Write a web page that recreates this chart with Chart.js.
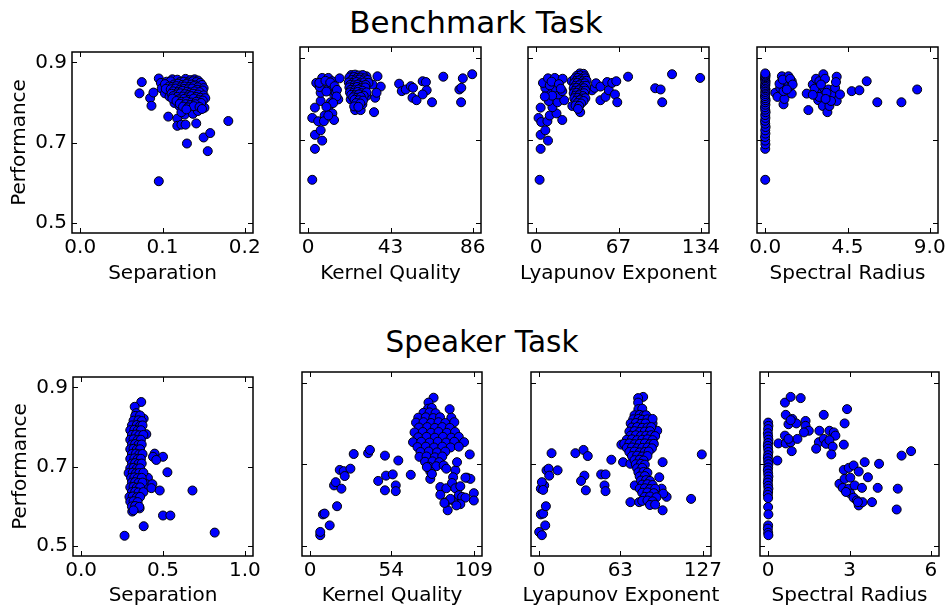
<!DOCTYPE html>
<html>
<head>
<meta charset="utf-8">
<script src="https://cdn.jsdelivr.net/npm/chart.js@4.4.0/dist/chart.umd.min.js"></script>
<style>
  body { margin: 0; background: #fff; width: 949px; height: 609px; position: relative; overflow: hidden; }
  canvas { position: absolute; }
  .titulo { position: absolute; transform: translateX(-50%); white-space: nowrap;
            font-family: 'DejaVu Sans', sans-serif; line-height: 1; color: #000; }
</style>
</head>
<body>
<div class="titulo" style="left:476px; top:7px; font-size:31px;">Benchmark Task</div>
<div class="titulo" style="left:482px; top:328px; font-size:29.5px;">Speaker Task</div>
<canvas id="t1"></canvas><canvas id="t2"></canvas><canvas id="t3"></canvas><canvas id="t4"></canvas>
<canvas id="b1"></canvas><canvas id="b2"></canvas><canvas id="b3"></canvas><canvas id="b4"></canvas>
<script>
// eixo y compartilhado (Performance)
const perfTicks = [0.5, 0.7, 0.9];
const perfLabels = ['0.5', '0.7', '0.9'];

// Benchmark Task
const benchSep = [
  [0.0748,0.851],[0.072,0.823],[0.085,0.811],[0.0866,0.792],[0.089,0.825],[0.0955,0.860],[0.098,0.849],[0.099,0.835],
  [0.0955,0.604],[0.107,0.765],[0.118,0.760],[0.118,0.742],[0.123,0.745],[0.128,0.745],[0.1297,0.698],[0.141,0.748],
  [0.127,0.770],[0.137,0.772],[0.143,0.779],[0.151,0.787],[0.150,0.713],[0.158,0.724],[0.155,0.679],[0.180,0.754],
  [0.103,0.823],[0.1065,0.838],[0.1085,0.815],[0.1146,0.799],[0.1207,0.791],[0.123,0.776],
  [0.112,0.858],[0.118,0.857],[0.128,0.859],[0.134,0.856],[0.139,0.858],[0.143,0.855],
  [0.105,0.852],[0.110,0.853],[0.121,0.851],[0.126,0.852],[0.131,0.850],[0.137,0.853],[0.141,0.851],[0.146,0.849],
  [0.103,0.846],[0.114,0.845],[0.119,0.847],[0.124,0.844],[0.129,0.846],[0.135,0.845],[0.140,0.843],[0.148,0.844],
  [0.108,0.840],[0.112,0.839],[0.117,0.841],[0.122,0.838],[0.127,0.840],[0.133,0.839],[0.138,0.841],[0.143,0.838],[0.150,0.836],
  [0.104,0.834],[0.110,0.833],[0.116,0.835],[0.121,0.832],[0.126,0.834],[0.131,0.833],[0.136,0.835],[0.142,0.832],[0.149,0.830],
  [0.113,0.828],[0.119,0.826],[0.124,0.829],[0.130,0.827],[0.134,0.825],[0.139,0.828],[0.145,0.826],
  [0.111,0.822],[0.117,0.820],[0.122,0.823],[0.127,0.821],[0.132,0.819],[0.137,0.822],[0.143,0.820],[0.150,0.818],
  [0.113,0.816],[0.118,0.814],[0.125,0.815],[0.130,0.813],[0.135,0.816],[0.141,0.814],[0.146,0.812],[0.152,0.811],
  [0.112,0.810],[0.120,0.808],[0.126,0.809],[0.133,0.807],[0.138,0.810],[0.144,0.806],[0.149,0.805],
  [0.117,0.804],[0.123,0.802],[0.129,0.803],[0.135,0.800],[0.141,0.802],[0.147,0.799],
  [0.121,0.797],[0.128,0.796],[0.134,0.794],[0.140,0.796],
  [0.125,0.790],[0.131,0.788],[0.138,0.791],[0.145,0.789],[0.129,0.783],[0.148,0.784]
];
const benchKern = [
  [2.1,0.604],[3.5,0.679],[3.5,0.713],[3.5,0.779],[2.1,0.754],[5.2,0.746],[6.5,0.724],[7.3,0.699],[6.5,0.795],
  [8.6,0.760],[8.2,0.746],[10.5,0.779],[12.6,0.765],[13.5,0.749],[11.7,0.792],[15.7,0.799],[13.5,0.811],[10.8,0.827],
  [6.5,0.815],[5.2,0.835],[4.2,0.839],[7.3,0.851],[10.5,0.851],[12.6,0.843],[16.4,0.850],[12.2,0.823],[14.3,0.817],
  [6,0.829],[5.8,0.839],[9,0.844],[11.5,0.840],[13.8,0.831],[15,0.822],[9.5,0.818],[14.8,0.806],[13,0.790],[9.5,0.781],[10.5,0.760],
  [22.2,0.799],[24.5,0.773],[27.4,0.773],[28.3,0.787],[30.4,0.807],[34.4,0.768],[35,0.803],[36.2,0.855],[37.9,0.830],
  [33.6,0.835],[35.7,0.815],[30.4,0.855],
  [47.5,0.837],[48.9,0.819],[51,0.823],[53.6,0.831],[54.8,0.827],[54.5,0.803],[56.6,0.797],[59.8,0.843],[61.5,0.841],
  [61.9,0.821],[59.8,0.811],[64.7,0.792],[70.6,0.854],[79,0.823],[80,0.827],[79.9,0.792],[80.8,0.850],[85.7,0.860],
  [22.5,0.858],[24.5,0.859],[26.5,0.857],[28.5,0.858],
  [21.5,0.852],[23.8,0.853],[25.6,0.851],[27.5,0.852],[29.5,0.850],
  [22.8,0.846],[24.6,0.845],[26.8,0.847],[28.8,0.845],[31,0.846],
  [21.2,0.840],[23.4,0.839],[25.2,0.841],[27,0.838],[29.2,0.840],[31.5,0.839],
  [22,0.834],[24,0.833],[26,0.835],[28,0.832],[30,0.834],
  [21.5,0.828],[23.5,0.827],[25.5,0.829],[27.5,0.826],[29.8,0.828],
  [22.2,0.822],[24.2,0.821],[26.3,0.823],[28.3,0.820],
  [21.8,0.816],[23.6,0.815],[25.8,0.817],[27.8,0.814],[30.5,0.816],
  [22.5,0.810],[24.5,0.809],[26.5,0.811],[29,0.808],
  [23.5,0.804],[25.5,0.803],[27.5,0.805],[24.2,0.798],[26.5,0.797],[28.6,0.796],
  [25,0.790],[27.2,0.789],[24,0.782],[26.2,0.781]
];
const benchLyap = [
  [2.75,0.604],[3.6,0.679],[3.6,0.713],[9.6,0.699],[7.4,0.724],[1.9,0.754],[4.1,0.744],[9.1,0.746],[3.6,0.779],
  [11,0.760],[16.5,0.765],[21.2,0.749],[13.2,0.780],[10.2,0.795],[17.3,0.792],[22.8,0.797],[17.9,0.811],[21.2,0.819],
  [14.6,0.827],[9.1,0.817],[7.4,0.827],[5.5,0.839],[9.6,0.850],[15.1,0.851],[21.5,0.849],[11,0.833],[28.9,0.843],
  [29.4,0.783],[35.8,0.768],[34.9,0.787],[12.5,0.842],[18.5,0.836],[20,0.825],[13,0.808],[7,0.806],
  [45.4,0.821],[47.6,0.827],[48.7,0.838],[52.3,0.797],[52.3,0.830],[56.4,0.805],[57.8,0.841],[59.1,0.821],[61.9,0.839],
  [65.2,0.843],[64.1,0.811],[66,0.792],[74.8,0.854],[96.9,0.826],[101.3,0.823],[102.6,0.792],[110.6,0.860],[133.5,0.851],
  [35.5,0.862],[38.5,0.861],[33,0.856],[36,0.857],[39.5,0.855],
  [31.5,0.850],[34,0.851],[37,0.849],[40,0.850],[32.5,0.844],[35,0.845],[38,0.843],[41,0.844],
  [31,0.838],[33.5,0.839],[36.5,0.837],[39.5,0.838],[32,0.832],[35,0.833],[38,0.831],[40.5,0.832],
  [30.5,0.826],[33,0.827],[36,0.825],[39,0.826],[31.5,0.820],[34.5,0.821],[37.5,0.819],[40,0.820],
  [30.5,0.814],[33,0.815],[36,0.813],[39,0.814],[32,0.808],[35,0.809],[38,0.807],
  [31,0.802],[34,0.803],[37,0.801],[40,0.802],[32.5,0.796],[35.5,0.797],[38.5,0.795],
  [33.5,0.790],[36.5,0.789],[32,0.784],[35,0.783],[34,0.776]
];
const benchSpec = [
  [0,0.604],[0,0.679],[0.01,0.690],[0,0.699],[-0.01,0.708],[0.01,0.716],[0,0.724],[0.02,0.732],[0,0.740],
  [-0.01,0.747],[0.01,0.754],[0,0.761],[0.02,0.768],[0,0.774],[-0.01,0.780],[0.01,0.786],[0,0.792],[0.02,0.797],
  [0,0.802],[-0.01,0.807],[0.01,0.812],[0,0.817],[0.02,0.822],[0,0.826],[-0.01,0.830],[0.01,0.834],[0,0.838],
  [0.02,0.842],[0,0.846],[-0.01,0.850],[0.01,0.853],[0,0.856],[0.02,0.859],[0,0.862],
  [0.55,0.815],[0.67,0.805],[0.91,0.855],[1.27,0.855],[1.0,0.787],[1.05,0.800],[1.45,0.813],[1.36,0.831],[0.82,0.827],
  [1.18,0.843],[1.45,0.843],[1.0,0.819],[0.78,0.837],[0.96,0.847],[1.36,0.849],[1.5,0.835],[1.18,0.823],
  [2.27,0.813],[2.36,0.773],[2.6,0.835],[2.78,0.849],[2.96,0.843],[3.18,0.860],[3.27,0.849],[3.0,0.827],[2.9,0.797],
  [2.82,0.815],[3.18,0.807],[3.15,0.783],[3.4,0.768],[3.51,0.783],[3.45,0.823],[3.64,0.811],[3.82,0.827],[3.91,0.854],
  [3.87,0.841],[3.91,0.795],[4.09,0.811],[2.7,0.825],[3.05,0.835],[3.35,0.815],[2.95,0.805],[3.6,0.795],[3.3,0.800],[2.6,0.810],
  [4.73,0.819],[5.15,0.821],[5.55,0.843],[6.13,0.792],[7.45,0.792],[8.31,0.823]
];

// Speaker Task
const speakSep = [
  [0.265,0.526],[0.382,0.550],[0.367,0.863],[0.327,0.851],[0.337,0.835],[0.382,0.821],[0.398,0.782],[0.449,0.733],
  [0.439,0.725],[0.5,0.725],[0.459,0.717],[0.527,0.686],[0.408,0.672],[0.398,0.656],[0.435,0.656],[0.429,0.646],
  [0.48,0.640],[0.68,0.640],[0.5,0.577],[0.545,0.577],[0.816,0.534],[0.357,0.595],[0.312,0.587],
  [0.33,0.828],[0.36,0.829],[0.32,0.816],[0.35,0.817],[0.37,0.815],
  [0.31,0.804],[0.34,0.805],[0.36,0.803],[0.375,0.804],[0.30,0.792],[0.325,0.793],[0.345,0.791],[0.365,0.792],
  [0.31,0.780],[0.335,0.781],[0.355,0.779],[0.38,0.780],[0.30,0.768],[0.32,0.769],[0.345,0.767],[0.365,0.768],
  [0.31,0.756],[0.33,0.757],[0.35,0.755],[0.37,0.756],[0.30,0.744],[0.32,0.745],[0.34,0.743],[0.36,0.744],
  [0.31,0.732],[0.335,0.733],[0.355,0.731],[0.375,0.732],[0.30,0.720],[0.325,0.721],[0.345,0.719],[0.365,0.720],
  [0.31,0.708],[0.33,0.709],[0.35,0.707],[0.37,0.708],[0.30,0.696],[0.32,0.697],[0.34,0.695],[0.36,0.696],
  [0.29,0.684],[0.315,0.685],[0.335,0.683],[0.355,0.684],[0.38,0.685],
  [0.305,0.672],[0.325,0.673],[0.345,0.671],[0.37,0.672],[0.31,0.660],[0.33,0.661],[0.35,0.659],[0.375,0.660],
  [0.30,0.648],[0.32,0.649],[0.34,0.647],[0.36,0.648],[0.31,0.636],[0.33,0.637],[0.35,0.635],[0.38,0.636],
  [0.295,0.624],[0.315,0.625],[0.34,0.623],[0.36,0.624],[0.30,0.612],[0.32,0.613],[0.345,0.611],
  [0.31,0.600],[0.33,0.601],[0.355,0.599],[0.32,0.590]
];
const speakKern = [
  [6.7,0.526],[6.7,0.534],[13,0.550],[8.5,0.577],[9.6,0.579],[17.9,0.597],[15.9,0.648],[17,0.656],[20.8,0.640],
  [19.7,0.686],[22.3,0.683],[23,0.671],[26.8,0.689],[29,0.725],[38.6,0.727],[39.8,0.735],[49.8,0.721],[58.7,0.709],
  [45.3,0.659],[50.5,0.672],[55,0.675],[49.8,0.636],[57,0.648],[57,0.634],[67,0.674],[82.2,0.863],[78.8,0.851],
  [92.9,0.835],[106.3,0.724],[109,0.629],[109,0.611],[104.5,0.667],[106.7,0.664],[91.6,0.587],
  [78.5,0.836],[81,0.838],[75.5,0.826],[79.5,0.827],[83.5,0.825],
  [72,0.814],[77,0.815],[82,0.813],[86.5,0.815],[94,0.814],
  [70.5,0.802],[75.5,0.803],[80.5,0.801],[85.5,0.803],[90,0.801],[96,0.803],
  [72.5,0.790],[78,0.791],[83,0.789],[88,0.791],[93,0.789],
  [69.5,0.778],[75,0.779],[80.5,0.777],[85.5,0.779],[91,0.777],[96.5,0.779],
  [72,0.766],[77.5,0.767],[83,0.765],[88.5,0.767],[94,0.765],[99,0.767],
  [68.5,0.754],[74,0.755],[79.5,0.753],[85,0.755],[90.5,0.753],[96,0.755],[102.5,0.754],
  [71.5,0.742],[77,0.743],[82.5,0.741],[88,0.743],[93.5,0.741],[99,0.743],
  [73.5,0.730],[79,0.731],[84.5,0.729],[90,0.731],
  [72.8,0.718],[77.5,0.719],[83,0.717],[88,0.719],
  [76.5,0.706],[81.5,0.707],[86,0.705],[79,0.694],[84,0.695],[80,0.682],
  [88.9,0.697],[90.7,0.689],[96.7,0.685],[97.8,0.705],[95.2,0.668],[103.4,0.667],[86.7,0.644],[90.7,0.641],
  [94.5,0.654],[96.7,0.641],[100,0.646],[86.7,0.625],[90.7,0.607],[95.6,0.611],[99,0.624],[101.2,0.620],
  [103.4,0.618],[100,0.602],[97.4,0.599],[93.4,0.615],[89.4,0.605],[80,0.664],[77.7,0.693],[81.1,0.676]
];
const speakLyap = [
  [0,0.534],[2.1,0.526],[4.7,0.550],[1.3,0.577],[3.1,0.579],[5.2,0.597],[1.3,0.640],[3.9,0.648],[2.1,0.656],
  [3.1,0.637],[5.7,0.685],[7.3,0.689],[7.8,0.672],[14.3,0.685],[9.6,0.727],[28.1,0.727],[34.4,0.735],[37.7,0.720],
  [35.1,0.672],[32.5,0.659],[36.2,0.636],[48.1,0.675],[51.5,0.675],[50.7,0.648],[51.5,0.634],[56,0.711],[63.8,0.748],
  [65.1,0.705],[70.8,0.701],[70.8,0.607],[77.6,0.607],[74.2,0.648],[80.7,0.865],[76.8,0.862],[76.8,0.851],[95.8,0.705],
  [93.2,0.668],[95,0.640],[98.9,0.620],[96.3,0.628],[95.8,0.587],[117.9,0.615],[126.2,0.724],[88.5,0.603],[91.6,0.782],[88,0.800],
  [77,0.835],[80,0.836],[74,0.820],[78,0.821],[81,0.819],[83,0.820],
  [73,0.810],[77,0.811],[80,0.809],[84,0.810],[88,0.811],[71,0.800],[75,0.801],[79,0.799],[82.5,0.800],
  [72,0.790],[76,0.791],[80,0.789],[84,0.790],[87,0.791],[70,0.780],[74,0.781],[78,0.779],[82,0.780],[86,0.781],
  [71,0.770],[75,0.771],[79,0.769],[83,0.770],[87,0.771],[90,0.769],[68,0.760],[72,0.761],[76,0.759],[80,0.760],[84,0.761],[88,0.759],
  [66,0.750],[70,0.751],[74,0.749],[78,0.750],[82,0.751],[86,0.749],[89,0.750],
  [68,0.740],[72,0.741],[76,0.739],[80,0.740],[84,0.741],[87.5,0.739],[70,0.730],[74,0.731],[78,0.729],[82,0.730],[85,0.731],
  [72,0.720],[76,0.721],[80,0.719],[84,0.720],[74,0.710],[78,0.711],[81,0.709],[75,0.700],[79,0.701],[82,0.699],
  [76,0.690],[80,0.691],[77,0.680],[81,0.681],[84,0.679],[78,0.670],[82,0.671],[79,0.660],[83,0.661],[86,0.659],
  [80,0.650],[84,0.651],[88,0.649],[78,0.640],[82,0.641],[86,0.639],[90,0.640],[80,0.630],[84,0.631],[89,0.629],
  [82,0.620],[86,0.621],[91,0.619],[80,0.610],[84,0.611],[88,0.609],[86,0.600],[90,0.601]
];
const speakSpec = [
  [0,0.802],[0.01,0.794],[0,0.786],[-0.01,0.776],[0,0.768],[0.01,0.760],[0,0.752],[-0.01,0.745],[0,0.738],
  [0.01,0.730],[0,0.722],[-0.01,0.715],[0,0.707],[0.01,0.700],[0,0.692],[-0.01,0.685],[0,0.677],[0.01,0.670],
  [0,0.662],[-0.01,0.655],[0,0.647],[0.01,0.640],[0,0.632],[-0.01,0.625],[0,0.617],[0,0.595],[0.01,0.577],
  [0,0.550],[-0.01,0.542],[0,0.532],[0.01,0.526],
  [0.34,0.709],[0.38,0.751],[0.62,0.851],[0.83,0.865],[1.2,0.862],[0.65,0.821],[0.75,0.798],[0.89,0.811],[1.04,0.800],
  [0.83,0.808],[1.38,0.806],[1.38,0.794],[1.5,0.782],[1.32,0.778],[0.62,0.770],[0.65,0.751],[0.83,0.754],[0.87,0.732],
  [1.08,0.762],[0.75,0.762],[2.05,0.821],[1.89,0.782],[1.87,0.754],[1.77,0.738],[2.05,0.762],[2.14,0.750],[2.26,0.782],
  [2.42,0.778],[2.48,0.770],[2.26,0.759],[2.38,0.743],[2.33,0.724],[2.79,0.748],[2.82,0.800],[2.91,0.835],
  [2.79,0.686],[2.97,0.691],[3.15,0.697],[3.56,0.705],[3.34,0.682],[4.09,0.701],[3.68,0.668],[2.63,0.652],[2.82,0.664],
  [3.03,0.667],[2.75,0.642],[2.97,0.640],[3.19,0.648],[3.46,0.642],[3.03,0.628],[3.15,0.618],[3.27,0.611],[3.34,0.599],
  [3.48,0.607],[3.83,0.607],[4.04,0.642],[4.78,0.640],[4.74,0.589],[4.92,0.721],[5.27,0.732],[2.87,0.632],[3.31,0.607]
];

const PAD_L = 72, PAD_T = 12, PAD_R = 30, PAD_B = 60;

// moldura + ticks para dentro nos quatro lados + titulo do eixo x (sem maxWidth)
const frameTicks = {
  id: 'frameTicks',
  afterDatasetsDraw(chart, args, opts) {
    const { ctx, chartArea: a } = chart;
    const x = chart.scales.x, y = chart.scales.y;
    ctx.save();
    ctx.strokeStyle = '#000';
    ctx.lineWidth = 1;
    ctx.beginPath();
    opts.xTicks.forEach(v => {
      const px = Math.round(x.getPixelForValue(v)) + 0.5;
      ctx.moveTo(px, a.bottom); ctx.lineTo(px, a.bottom - 5);
      ctx.moveTo(px, a.top); ctx.lineTo(px, a.top + 5);
    });
    perfTicks.forEach(v => {
      const py = Math.round(y.getPixelForValue(v)) + 0.5;
      ctx.moveTo(a.left, py); ctx.lineTo(a.left + 5, py);
      ctx.moveTo(a.right, py); ctx.lineTo(a.right - 5, py);
    });
    ctx.stroke();
    ctx.lineWidth = 1.5;
    ctx.strokeRect(a.left, a.top, a.right - a.left, a.bottom - a.top);

    ctx.fillStyle = '#000';
    ctx.font = "20px 'DejaVu Sans', sans-serif";
    ctx.textAlign = 'center';
    ctx.textBaseline = 'alphabetic';
    ctx.fillText(opts.title, (a.left + a.right) / 2, a.bottom + opts.titleOffset);
    ctx.restore();
  }
};

Chart.defaults.font.family = "'DejaVu Sans', sans-serif";
Chart.defaults.color = '#000';

function renderScatter(id, box, points, xMin, xMax, xTicks, xLabels, xTitle, showY) {
  const canvas = document.getElementById(id);
  canvas.width = box.r - box.l + PAD_L + PAD_R;
  canvas.height = box.b - box.t + PAD_T + PAD_B;
  canvas.style.left = (box.l - PAD_L) + 'px';
  canvas.style.top = (box.t - PAD_T) + 'px';
  return new Chart(canvas, {
    type: 'scatter',
    data: {
      datasets: [{
        data: points.map(p => ({ x: p[0], y: p[1] })),
        backgroundColor: '#0000ff',
        borderColor: '#000000',
        borderWidth: 1,
        pointRadius: 4.5,
        pointHoverRadius: 4.5
      }]
    },
    options: {
      responsive: false,
      animation: false,
      events: [],
      layout: { padding: { left: 0, top: PAD_T, right: PAD_R, bottom: 0 } },
      plugins: {
        legend: { display: false },
        tooltip: { enabled: false },
        frameTicks: { xTicks: xTicks, title: xTitle, titleOffset: box.titleOffset }
      },
      scales: {
        x: {
          type: 'linear',
          min: xMin,
          max: xMax,
          grid: { display: false, drawTicks: false },
          border: { display: false },
          afterBuildTicks: s => { s.ticks = xTicks.map(v => ({ value: v })); },
          afterFit: s => { s.height = PAD_B; },
          ticks: { padding: 3, autoSkip: false, maxRotation: 0, font: { size: 20 }, callback: (v, i) => xLabels[i] }
        },
        y: {
          type: 'linear',
          min: 0.475,
          max: 0.926,
          grid: { display: false, drawTicks: false },
          border: { display: false },
          afterBuildTicks: s => { s.ticks = perfTicks.map(v => ({ value: v })); },
          afterFit: s => { s.width = PAD_L; },
          ticks: { display: showY, padding: 5, font: { size: 20 }, callback: (v, i) => perfLabels[i] },
          title: { display: showY, text: 'Performance', font: { size: 20 }, padding: { top: 8, bottom: 0 } }
        }
      }
    },
    plugins: [frameTicks]
  });
}

const top1 = { t: 47, b: 233, titleOffset: 46 };
const bot1 = { t: 372, b: 556, titleOffset: 45 };

renderScatter('t1', { ...top1, l: 72, r: 253 }, benchSep, -0.01, 0.21, [0, 0.1, 0.2], ['0.0', '0.1', '0.2'], 'Separation', true);
renderScatter('t2', { ...top1, l: 300, r: 481 }, benchKern, -4.3, 90.3, [0, 43, 86], ['0', '43', '86'], 'Kernel Quality', false);
renderScatter('t3', { ...top1, l: 528, r: 709 }, benchLyap, -6.7, 140.7, [0, 67, 134], ['0', '67', '134'], 'Lyapunov Exponent', false);
renderScatter('t4', { ...top1, l: 757, r: 938 }, benchSpec, -0.45, 9.45, [0, 4.5, 9], ['0.0', '4.5', '9.0'], 'Spectral Radius', false);

renderScatter('b1', { ...bot1, l: 73, r: 253 }, speakSep, -0.05, 1.05, [0, 0.5, 1], ['0.0', '0.5', '1.0'], 'Separation', true);
renderScatter('b2', { ...bot1, l: 302, r: 482 }, speakKern, -5.45, 114.45, [0, 54, 109], ['0', '54', '109'], 'Kernel Quality', false);
renderScatter('b3', { ...bot1, l: 531, r: 711 }, speakLyap, -6.35, 133.35, [0, 63, 127], ['0', '63', '127'], 'Lyapunov Exponent', false);
renderScatter('b4', { ...bot1, l: 760, r: 939 }, speakSpec, -0.3, 6.3, [0, 3, 6], ['0', '3', '6'], 'Spectral Radius', false);
</script>
</body>
</html>
